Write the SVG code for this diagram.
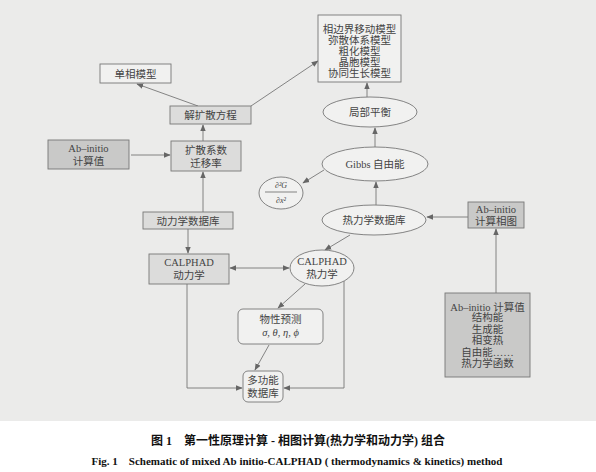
<svg xmlns="http://www.w3.org/2000/svg" width="596" height="472" viewBox="0 0 596 472">
<style>
.t{font-family:"Liberation Serif","Noto Sans CJK SC",serif;font-size:10.5px;fill:#444;text-anchor:middle}
.n{stroke:#777;stroke-width:0.9}
.w{fill:#f1f1f0}
.g{fill:#dcdcdb}
.d{fill:#c9c9c8}
.c{fill:none;stroke:#777;stroke-width:0.9}
.cap{font-family:"Liberation Serif","Noto Sans CJK SC",serif;font-weight:bold;fill:#111;text-anchor:middle}
</style>
<defs>
<marker id="a" viewBox="0 0 10 10" refX="9" refY="5" markerWidth="7" markerHeight="7" orient="auto-start-reverse" markerUnits="userSpaceOnUse">
<path d="M0,1 L10,5 L0,9 Z" fill="#666"/>
</marker>
</defs>
<rect x="0" y="0" width="596" height="421" fill="#ebebea"/>
<rect x="0" y="421" width="596" height="51" fill="#ffffff"/>

<g id="connectors">
<path class="c" d="M198,106 L137,84" marker-end="url(#a)"/>
<path class="c" d="M251,106 L318,61" marker-end="url(#a)"/>
<path class="c" d="M131,155 L170,155" marker-end="url(#a)"/>
<path class="c" d="M203,141 L203,125" marker-end="url(#a)"/>
<path class="c" d="M203,212 L203,172" marker-end="url(#a)"/>
<path class="c" d="M188,229 L188,253" marker-end="url(#a)"/>
<path class="c" d="M230,268 L289,268" marker-start="url(#a)" marker-end="url(#a)"/>
<path class="c" d="M187,284 L187,388 L242,388" marker-end="url(#a)"/>
<path class="c" d="M344,280 L344,388 L284,388" marker-end="url(#a)"/>
<path class="c" d="M305,284 L278,308" marker-end="url(#a)"/>
<path class="c" d="M269,345 L255,370" marker-end="url(#a)"/>
<path class="c" d="M350,235 L325,250" marker-end="url(#a)"/>
<path class="c" d="M468,217 L427,217" marker-end="url(#a)"/>
<path class="c" d="M496,293 L496,229" marker-end="url(#a)"/>
<path class="c" d="M376,205 L376,182" marker-end="url(#a)"/>
<path class="c" d="M324,170 L303,183" marker-end="url(#a)"/>
<path class="c" d="M375,147 L375,128" marker-end="url(#a)"/>
<path class="c" d="M367,97 L367,83" marker-end="url(#a)"/>
</g>

<g id="single-phase">
<rect class="n w" x="100" y="64" width="71" height="19"/>
<text class="t" x="135.5" y="77.5">单相模型</text>
</g>
<g id="diffusion-eq">
<rect class="n g" x="170" y="106" width="81" height="18"/>
<text class="t" x="210.5" y="119">解扩散方程</text>
</g>
<g id="abinitio-values">
<rect class="n d" x="48" y="140" width="81" height="29"/>
<text class="t" x="88.5" y="152">Ab–initio</text>
<text class="t" x="88.5" y="165">计算值</text>
</g>
<g id="diffusion-coef">
<rect class="n g" x="171" y="141" width="70" height="30"/>
<text class="t" x="206" y="154">扩散系数</text>
<text class="t" x="206" y="167">迁移率</text>
</g>
<g id="models">
<rect class="n w" x="318" y="15" width="83" height="67"/>
<text class="t" x="359.5" y="32.5">相边界移动模型</text>
<text class="t" x="359.5" y="43.5">弥散体系模型</text>
<text class="t" x="359.5" y="54.5">粗化模型</text>
<text class="t" x="359.5" y="65.5">晶胞模型</text>
<text class="t" x="359.5" y="76.5">协同生长模型</text>
</g>
<g id="local-eq">
<ellipse class="n w" cx="370" cy="112" rx="47" ry="15"/>
<text class="t" x="370" y="116">局部平衡</text>
</g>
<g id="gibbs">
<ellipse class="n w" cx="375" cy="164" rx="53" ry="17"/>
<text class="t" x="375" y="168">Gibbs 自由能</text>
</g>
<g id="d2g">
<ellipse class="n w" cx="281" cy="193" rx="22" ry="16"/>
<text class="t" x="281" y="188" style="font-size:8px;font-style:italic">∂²G</text>
<line x1="265" y1="192" x2="297" y2="192" stroke="#555" stroke-width="0.7"/>
<text class="t" x="281" y="203" style="font-size:8px;font-style:italic">∂x²</text>
</g>
<g id="thermo-db">
<ellipse class="n w" cx="374" cy="220" rx="52" ry="15"/>
<text class="t" x="374" y="224">热力学数据库</text>
</g>
<g id="abinitio-phase">
<rect class="n d" x="468" y="202" width="56" height="26"/>
<text class="t" x="496" y="213">Ab–initio</text>
<text class="t" x="496" y="225">计算相图</text>
</g>
<g id="abinitio-calc">
<rect class="n d" x="445" y="293" width="85" height="84"/>
<text class="t" x="487.5" y="311">Ab–initio 计算值</text>
<text class="t" x="487.5" y="321">结构能</text>
<text class="t" x="487.5" y="333">生成能</text>
<text class="t" x="487.5" y="344">相变热</text>
<text class="t" x="487.5" y="356">自由能……</text>
<text class="t" x="487.5" y="367">热力学函数</text>
</g>
<g id="calphad-thermo">
<ellipse class="n w" cx="322" cy="268" rx="32" ry="18"/>
<text class="t" x="322" y="265">CALPHAD</text>
<text class="t" x="322" y="278">热力学</text>
</g>
<g id="kinetic-db">
<rect class="n g" x="143" y="212" width="90" height="17"/>
<text class="t" x="188" y="224.5">动力学数据库</text>
</g>
<g id="calphad-kin">
<rect class="n g" x="149" y="254" width="80" height="30"/>
<text class="t" x="189" y="266">CALPHAD</text>
<text class="t" x="189" y="279">动力学</text>
</g>
<g id="property">
<rect class="n w" x="238" y="309" width="85" height="35" rx="5"/>
<text class="t" x="280.5" y="323">物性预测</text>
<text class="t" x="280.5" y="336" style="font-style:italic">σ, θ, η, ϕ</text>
</g>
<g id="multi-db">
<rect class="n w" x="243" y="371" width="40" height="31" rx="5"/>
<text class="t" x="263" y="384">多功能</text>
<text class="t" x="263" y="397">数据库</text>
</g>

<text class="cap" x="298" y="445" style="font-size:12px">图 1　第一性原理计算 - 相图计算(热力学和动力学) 组合</text>
<text class="cap" x="297" y="465" style="font-size:11px">Fig. 1　Schematic of mixed Ab initio-CALPHAD ( thermodynamics &amp; kinetics) method</text>
</svg>
